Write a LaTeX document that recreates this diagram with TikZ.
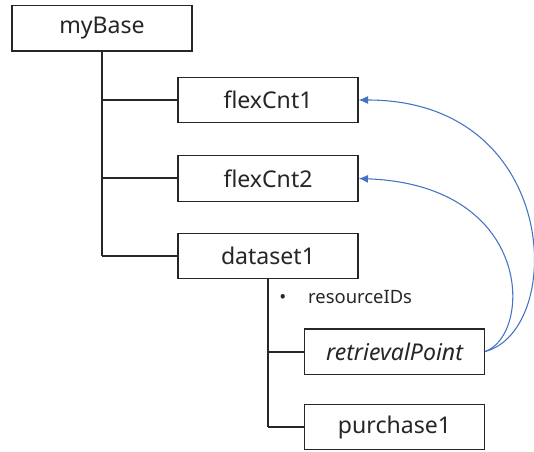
\documentclass[tikz,border=0pt]{standalone}
\usepackage{fontspec}
\setmainfont{Noto Sans}
\usepackage{tikz}
\usetikzlibrary{arrows.meta, positioning}
\definecolor{TreeLine}{RGB}{38, 38, 38}
\definecolor{LinkBlue}{RGB}{68, 114, 196}
\definecolor{LabelGray}{RGB}{38, 38, 38}

\tikzset{
  objbox/.style={draw=TreeLine, line width=1pt, fill=white, minimum width=135pt,
                 minimum height=34pt, inner sep=0pt, font=\fontsize{17.3}{20}\selectfont,
                 text=LabelGray},
  branch/.style={draw=TreeLine, line width=0.9pt},
  link/.style={draw=LinkBlue, line width=0.8pt, -{Latex[length=7pt, width=6pt]}}
}

\begin{document}
\begin{tikzpicture}[x=0.75pt, y=-0.75pt]
    \useasboundingbox (0,0) rectangle (534,452);
    % tree lines
    \draw[branch] (102,52) -- (102,256);
    \draw[branch] (102,100) -- (178,100);
    \draw[branch] (102,178) -- (178,178);
    \draw[branch] (102,256) -- (178,256);
    \draw[branch] (268,279) -- (268,427);
    \draw[branch] (268,352) -- (304,352);
    \draw[branch] (268,427) -- (304,427);
    % objects
    \node[objbox] (myBase) at (102,28.5) {myBase};
    \node[objbox] (flexCnt1) at (268,100) {flexCnt1};
    \node[objbox] (flexCnt2) at (268,178.5) {flexCnt2};
    \node[objbox] (dataset1) at (268,256) {dataset1};
    \node[objbox] (retrievalPoint) at (394.5,351.5) {\itshape retrievalPoint};
    \node[objbox] (purchase1) at (394.5,427) {purchase1};
    \node[anchor=west, inner sep=0pt, text=LabelGray, font=\fontsize{13.8}{16}\selectfont]
      (resourceIDs) at (279,297) {\textbullet\hspace{16.5pt}resourceIDs};
    % links
    \draw[link] (retrievalPoint.east) .. controls (566,330) and (561,100) .. (flexCnt1.east);
    \draw[link] (retrievalPoint.east) .. controls (532,335) and (535,185) .. (flexCnt2.east);
\end{tikzpicture}
\end{document}
